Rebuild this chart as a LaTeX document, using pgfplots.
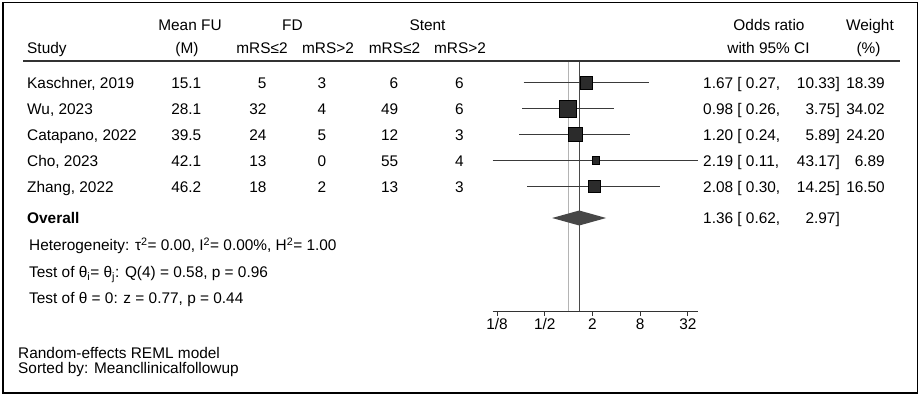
\documentclass[border=0pt]{standalone}
\usepackage{fontspec}
\setmainfont{Liberation Sans}
\usepackage{pgfplots}
\pgfplotsset{compat=1.18}
\definecolor{nullcol}{HTML}{B4B4B4}
\definecolor{ovcol}{HTML}{4A4A4A}
\definecolor{cicol}{HTML}{3A3A3A}
\definecolor{sqcol}{HTML}{2B2B2B}
\definecolor{dmcol}{HTML}{474747}
\definecolor{axcol}{HTML}{333333}
\newcommand\fs{\fontsize{15.4bp}{18bp}\selectfont}
\begin{document}
\begin{tikzpicture}
\path[use as bounding box] (0,0) rectangle (920bp,-396bp);
\begin{axis}[
  at={(492.6bp,-311bp)}, anchor=south west,
  scale only axis, width=205.7bp, height=250bp,
  xmode=log, log basis x=2, xmin=0.11, xmax=43.17,
  ymin=-311, ymax=-61,
  axis x line*=bottom, axis y line=none,
  x axis line style={-, line width=1bp, color=axcol},
  xtick={0.125,0.5,2,8,32},
  xticklabels={\textnormal{1/8},\textnormal{1/2},\textnormal{2},\textnormal{8},\textnormal{32}},
  minor xtick={},
  tick align=outside,
  major tick length=4.5bp,
  every tick/.style={line width=1bp, color=axcol},
  xticklabel style={font=\fs, inner sep=0pt, yshift=-3bp},
  clip=false,
]
% reference lines
\addplot[nullcol, line width=1.6bp] coordinates {(1,-61) (1,-311)};
\addplot[ovcol, line width=1.1bp] coordinates {(1.36,-61) (1.36,-311)};
% confidence intervals
\addplot[cicol, line width=1bp] coordinates {(0.27,-82.5) (10.33,-82.5)};
\addplot[cicol, line width=1bp] coordinates {(0.26,-108.5) (3.75,-108.5)};
\addplot[cicol, line width=1bp] coordinates {(0.24,-134.5) (5.89,-134.5)};
\addplot[cicol, line width=1bp] coordinates {(0.11,-160.5) (43.17,-160.5)};
\addplot[cicol, line width=1bp] coordinates {(0.30,-186.5) (14.25,-186.5)};
% point estimates (square side ~ sqrt of weight)
\addplot[only marks, mark=square*, mark size=6.3bp, mark options={draw=none, fill=sqcol}] coordinates {(1.67,-82.5)};
\addplot[only marks, mark=square*, mark size=8.5bp, mark options={draw=none, fill=sqcol}] coordinates {(0.98,-108.5)};
\addplot[only marks, mark=square*, mark size=7.15bp, mark options={draw=none, fill=sqcol}] coordinates {(1.20,-134.5)};
\addplot[only marks, mark=square*, mark size=3.9bp, mark options={draw=none, fill=sqcol}] coordinates {(2.19,-160.5)};
\addplot[only marks, mark=square*, mark size=5.95bp, mark options={draw=none, fill=sqcol}] coordinates {(2.08,-186.5)};
% overall diamond
\addplot[draw=none, fill=dmcol] coordinates {(0.62,-218) (1.36,-210.5) (2.97,-218) (1.36,-225.5) (0.62,-218)};
\end{axis}
\begin{scope}[x=1bp, y=-1bp, every node/.style={font=\fs, inner sep=0pt}]
\draw[line width=1.5bp, black] (3,2.5) rectangle (917.5,393);
\draw[line width=1.4bp, axcol] (23,61) -- (900,61);
% headers
\node[anchor=base] at (190,30.5) {Mean FU};
\node[anchor=base] at (292.5,30.5) {FD};
\node[anchor=base] at (427.5,30.5) {Stent};
\node[anchor=base] at (769,30.5) {Odds ratio};
\node[anchor=base] at (870,30.5) {Weight};
\node[anchor=base west] at (27,53.5) {Study};
\node[anchor=base] at (187,53.5) {(M)};
\node[anchor=base] at (262,53.5) {mRS≤2};
\node[anchor=base] at (328,53.5) {mRS>2};
\node[anchor=base] at (394.5,53.5) {mRS≤2};
\node[anchor=base] at (460,53.5) {mRS>2};
\node[anchor=base] at (768.5,53.5) {with 95\% CI};
\node[anchor=base] at (868.5,53.5) {(\%)};
% rows
\foreach \y/\name/\fu/\a/\b/\c/\d/\orl/\oru/\w in {
 88/{Kaschner, 2019}/15.1/5/3/6/6/{1.67 [ 0.27,}/{10.33]}/18.39,
 114/{Wu, 2023}/28.1/32/4/49/6/{0.98 [ 0.26,}/{3.75]}/34.02,
 140/{Catapano, 2022}/39.5/24/5/12/3/{1.20 [ 0.24,}/{5.89]}/24.20,
 166/{Cho, 2023}/42.1/13/0/55/4/{2.19 [ 0.11,}/{43.17]}/6.89,
 192/{Zhang, 2022}/46.2/18/2/13/3/{2.08 [ 0.30,}/{14.25]}/16.50}{
 \node[anchor=base west] at (27,\y) {\name};
 \node[anchor=base east] at (201.5,\y) {\fu};
 \node[anchor=base east] at (266.7,\y) {\a};
 \node[anchor=base east] at (326.5,\y) {\b};
 \node[anchor=base east] at (398.5,\y) {\c};
 \node[anchor=base east] at (464,\y) {\d};
 \node[anchor=base west] at (703,\y) {\orl};
 \node[anchor=base east] at (840,\y) {\oru};
 \node[anchor=base east] at (885,\y) {\w};
}
\node[anchor=base west] at (27,223.5) {\bfseries Overall};
\node[anchor=base west] at (703,223.5) {1.36 [ 0.62,};
\node[anchor=base east] at (840,223.5) {2.97]};
\node[anchor=base west] at (29,250.5) {Heterogeneity: τ\textsuperscript{2}= 0.00, I\textsuperscript{2}= 0.00\%, H\textsuperscript{2}= 1.00};
\node[anchor=base west] at (29,277.5) {Test of θ\textsubscript{i}= θ\textsubscript{j}: Q(4) = 0.58, p = 0.96};
\node[anchor=base west] at (29,303.5) {Test of θ = 0: z = 0.77, p = 0.44};
\node[anchor=base west] at (18,358.5) {Random-effects REML model};
\node[anchor=base west] at (18,373.5) {Sorted by: Meancllinicalfollowup};
\end{scope}
\end{tikzpicture}
\end{document}
